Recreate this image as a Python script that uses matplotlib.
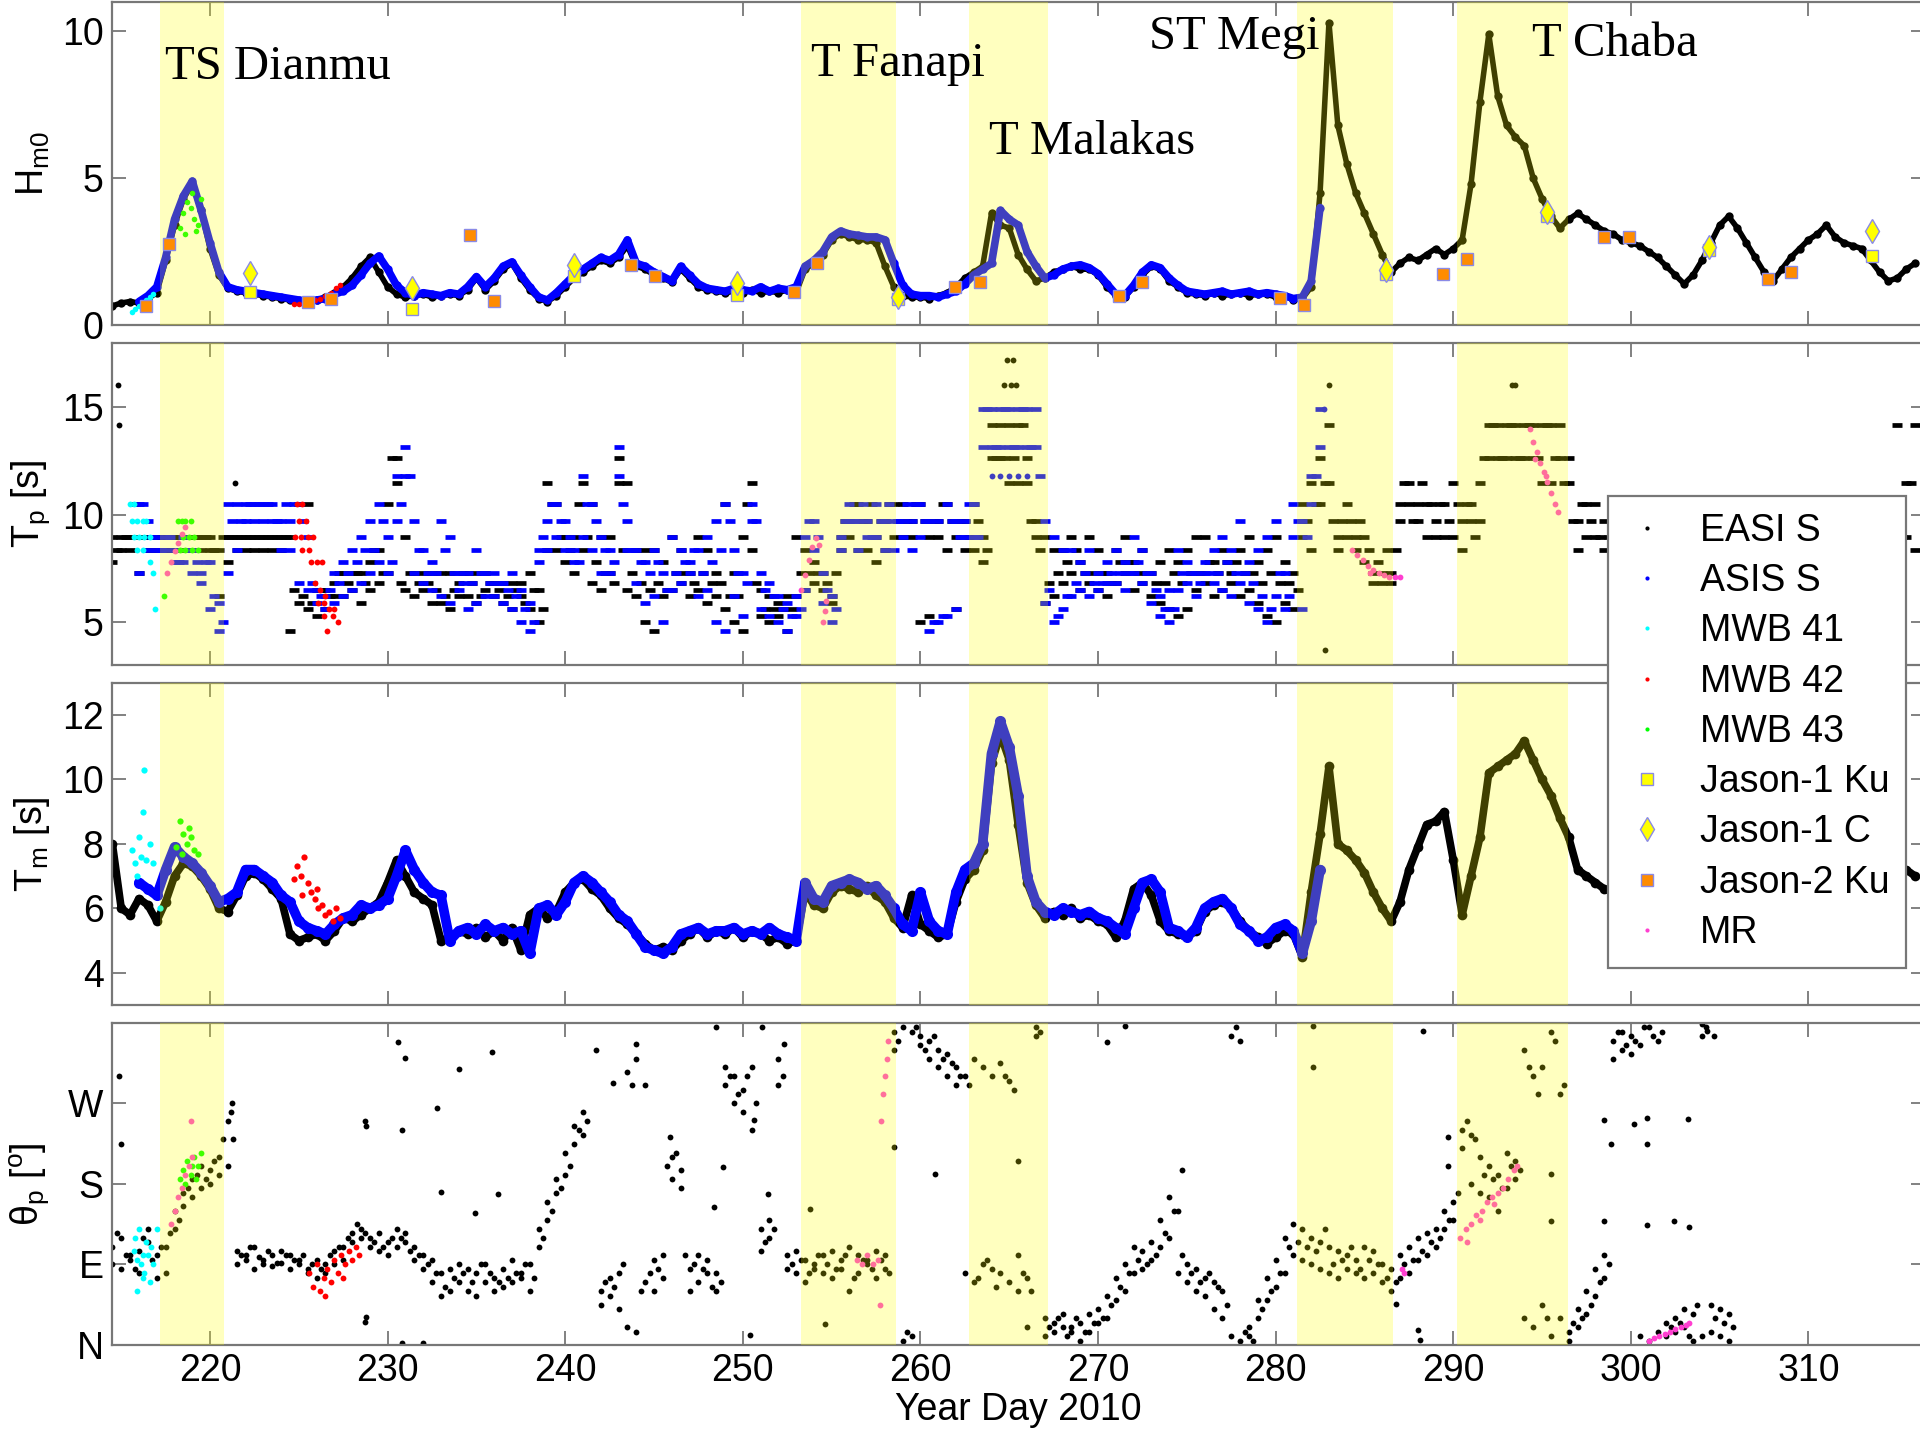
import numpy as np
import matplotlib
matplotlib.use("Agg")
import matplotlib.pyplot as plt
from matplotlib.lines import Line2D

nan = np.nan

# sampling grids: first day and step (days); "_c" series sit half a step later
EASI_T0 = 214.5
ASIS_T0 = 216.0
STEP = 0.5

# storm periods (year day) and labels
storm_spans = [(217.2, 220.76), (253.3, 258.6), (262.75, 267.2), (281.2, 286.6), (290.2, 296.45)]
storm_names = ["TS Dianmu", "T Fanapi", "T Malakas", "ST Megi", "T Chaba"]
storm_text_x = [217.46, 253.84, 263.86, 272.87, 294.43]
storm_text_y = [8.79, 8.89, 6.23, 9.81, 9.57]

# ---------------- Hm0 ----------------
hm0_easi = [
    0.65, 0.75, 0.8, 0.75, 0.9, 1.1, 2.2, 3.4, 4.3, 4.8,
    3.9, 2.6, 1.7, 1.25, 1.15, 1.1, 1.05, 1.0, 0.95, 0.9,
    0.85, 0.8, 0.8, 0.85, 0.95, 1.1, 1.3, 1.6, 2.0, 2.3,
    1.8, 1.3, 1.05, 0.95, 1.0, 1.05, 0.95, 1.0, 1.05, 1.0,
    1.2, 1.6, 1.2, 1.5, 1.9, 2.1, 1.6, 1.2, 0.9, 0.8,
    1.0, 1.3, 1.6, 1.8, 2.0, 2.2, 2.1, 2.3, 2.7, 2.0,
    1.9, 1.7, 1.6, 1.45, 1.9, 1.6, 1.3, 1.2, 1.15, 1.1,
    1.15, 1.1, 1.2, 1.1, 1.15, 1.1, 1.2, 1.1, 1.9, 2.1,
    2.4, 2.9, 3.1, 3.0, 2.9, 2.9, 2.8, 2.0, 1.3, 1.0,
    0.95, 0.95, 0.9, 1.0, 1.1, 1.3, 1.6, 1.8, 2.0, 3.8,
    3.4, 3.3, 2.4, 1.9, 1.5, 1.6, 1.8, 1.9, 2.0, 1.9,
    1.9, 1.7, 1.3, 1.0, 0.95, 1.3, 1.7, 2.0, 1.9, 1.5,
    1.3, 1.1, 1.05, 1.0, 1.1, 1.0, 1.05, 1.1, 1.0, 1.05,
    1.05, 0.95, 1.0, 0.85, 0.9, 1.3, 4.5, 10.3, 6.8, 5.5,
    4.5, 3.8, 3.1, 2.4, 1.8, 2.1, 2.3, 2.2, 2.4, 2.6,
    2.4, 2.6, 2.9, 4.8, 7.6, 9.9, 7.8, 6.8, 6.4, 6.1,
    5.0, 4.3, 3.7, 3.3, 3.6, 3.8, 3.6, 3.4, 3.2, 3.1,
    2.9, 2.8, 2.7, 2.5, 2.3, 2.0, 1.7, 1.4, 1.7, 2.2,
    2.8, 3.4, 3.7, 3.3, 2.8, 2.3, 1.8, 1.5, 1.9, 2.3,
    2.6, 2.9, 3.1, 3.4, 3.0, 2.8, 2.7, 2.6, 2.2, 1.8,
    1.5, 1.6, 1.9, 2.1,
]
hm0_asis = [
    0.8, 1.0, 1.3, 2.3, 3.6, 4.4, 4.9, 3.9, 2.8, 1.8,
    1.3, 1.2, 1.15, 1.1, 1.05, 1.0, 0.95, 0.9, 0.85, 0.8,
    0.85, 0.9, 1.05, 1.15, 1.35, 1.7, 2.1, 2.35, 1.9, 1.35,
    1.1, 1.0, 1.1, 1.05, 1.0, 1.1, 1.05, 1.3, 1.65, 1.3,
    1.6, 2.0, 2.15, 1.7, 1.3, 0.95, 0.85, 1.1, 1.4, 1.7,
    1.9, 2.1, 2.3, 2.2, 2.4, 2.9, 2.1, 2.0, 1.8, 1.65,
    1.5, 2.0, 1.7, 1.4, 1.25, 1.2, 1.15, 1.25, 1.2, 1.15,
    1.3, 1.15, 1.25, 1.2, 1.3, 2.0, 2.2, 2.5, 3.0, 3.2,
    3.1, 3.05, 3.0, 3.0, 2.9, 2.1, 1.35, 1.05, 1.0, 1.0,
    0.95, 1.05, 1.15, 1.4, 1.7, 1.9, 2.1, 3.9, 3.6, 3.4,
    2.5, 2.0, 1.6, 1.7, 1.9, 2.0, 2.05, 1.95, 1.75, 1.4,
    1.05, 1.0, 1.35, 1.8, 2.05, 1.95, 1.6, 1.35, 1.15, 1.1,
    1.05, 1.1, 1.15, 1.05, 1.1, 1.15, 1.05, 1.1, 1.05, 1.0,
    0.9, 0.95, 1.5, 4.0,
]
hm0_mwb41 = [215.6, 0.45, 215.8, 0.55, 216.0, 0.65, 216.2, 0.75, 216.4, 0.85, 216.6, 0.95, 216.8, 1.05]
hm0_mwb42 = [224.7, 0.7, 225.0, 0.72, 225.3, 0.75, 225.6, 0.8, 225.9, 0.85, 226.2, 0.9,
             226.5, 1.0, 226.8, 1.1, 227.1, 1.25, 227.3, 1.35]
hm0_mwb43 = [218.3, 3.3, 218.5, 3.8, 218.7, 4.2, 218.9, 4.0, 219.1, 3.6, 219.3, 3.4,
             219.5, 4.3, 218.6, 3.1, 219.0, 4.5, 219.2, 3.2]
j1ku_day = [222.27, 231.38, 240.48, 249.65, 258.75, 286.2, 295.3, 304.4, 313.58]
j1ku_hs = [1.13, 0.54, 1.66, 1.02, 0.9, 1.75, 3.7, 2.55, 2.34]
j1c_day = [222.27, 231.38, 240.48, 249.65, 258.75, 286.2, 295.3, 304.4, 313.58]
j1c_hs = [1.78, 1.25, 2.06, 1.42, 0.96, 1.89, 3.85, 2.66, 3.2]
j2ku_day = [216.38, 217.69, 225.51, 226.82, 234.62, 236.0, 243.72, 245.07, 252.9, 254.2, 261.96,
            263.37, 271.17, 272.48, 280.27, 281.61, 289.44, 290.75, 298.51, 299.89, 307.72, 309.0]
j2ku_hs = [0.65, 2.75, 0.77, 0.89, 3.08, 0.82, 2.06, 1.66, 1.14, 2.12, 1.28,
           1.47, 0.99, 1.47, 0.93, 0.69, 1.73, 2.24, 2.98, 2.98, 1.55, 1.81]

# ---------------- Tp ----------------
tp_easi_a = [
    8.96, 8.96, 8.96, 8.96, 8.96, 8.96, 8.96, 8.96, 8.96, 8.96,
    8.96, 8.96, 8.35, 8.96, 8.96, 8.96, 8.96, 8.96, 8.96, 8.96,
    8.96, 10.5, 10.5, 6.5, 6.5, 6.8, 7.3, 7.3, 7.3, 7.8,
    8.35, 10.5, 11.45, 8.96, 7.3, 7.3, 7.3, 7.3, 7.3, 6.8,
    7.3, 7.3, 7.3, 6.8, 6.8, 6.8, 6.8, 7.3, 6.5, 11.45,
    10.5, 8.96, 8.96, 11.45, 10.5, 8.96, 7.3, 12.65, 11.45, 8.35,
    8.35, 8.35, 7.8, 8.96, 8.35, 7.3, 8.96, 8.35, 7.3, 10.5,
    7.3, 8.96, 11.45, 6.5, 6.2, 5.9, 6.2, 8.96, 8.35, 7.8,
    7.3, 6.2, 8.96, 9.7, 10.5, 9.7, 8.96, 9.7, 10.5, 10.5,
    9.7, 10.5, 8.96, 9.7, 10.5, 8.96, 9.7, 10.5, 8.96, 14.15,
    14.15, 14.15, 14.15, 12.65, 9.7, 8.96, 8.35, 8.35, 8.96, 7.8,
    8.96, 8.35, 7.3, 8.35, 8.96, 7.8, 8.35, 7.3, 7.8, 8.35,
    7.8, 8.35, 8.96, 8.96, 7.8, 8.35, 7.3, 8.35, 8.96, 7.8,
    8.35, 8.96, 7.8, 7.3, 10.5, 11.45, 12.65, 14.15, 8.96, 10.5,
    8.96, 8.96, 7.3, 7.3, 7.3, 10.5, 11.45, 10.5, 10.5, 9.7,
    10.5, 11.45, 9.7, 10.5, 11.45, 14.15, 14.15, 14.15, 14.15, 14.15,
    14.15, 14.15, 14.15, 14.15, 12.65, 9.7, 10.5, 10.5, 9.7, 9.7,
    nan, nan, nan, nan, nan, nan, nan, nan, nan, nan,
    nan, nan, nan, nan, nan, nan, nan, nan, nan, nan,
    nan, nan, nan, nan, nan, nan, nan, nan, nan, nan,
    nan, 14.15, 11.45, 14.15,
]
tp_easi_b = [
    7.8, 8.35, 8.35, 7.3, 8.35, 8.35, 8.35, 8.35, 8.35, 8.35,
    8.35, 8.35, 6.2, 7.8, 8.35, 8.35, 8.35, 8.35, 8.35, 8.35,
    4.6, 5.9, 5.6, 5.3, 5.6, 6.2, 6.2, 6.5, 5.9, 6.5,
    6.8, 7.3, 12.65, 6.5, 6.2, 6.5, 5.9, 5.9, 5.6, 6.2,
    6.2, 5.9, 6.5, 6.2, 5.9, 5.6, 6.2, 5.6, 5.0, 8.35,
    8.35, 7.8, 7.3, 8.35, 6.8, 6.5, 8.96, 11.45, 6.5, 6.2,
    5.0, 4.6, 6.2, 6.5, 6.8, 6.2, 6.5, 5.9, 6.2, 5.6,
    5.0, 4.6, 8.35, 5.3, 5.0, 5.3, 4.6, 6.2, 6.5, 6.8,
    6.5, 5.9, 8.35, 8.96, 8.35, 8.35, 7.8, 8.35, 8.96, 8.96,
    8.96, 5.0, 5.3, 8.96, 8.35, 5.6, 8.35, 8.35, 7.8, 12.65,
    12.65, 11.45, 11.45, 11.45, 8.96, 5.9, 6.2, 6.8, 7.3, 6.5,
    6.8, 6.5, 6.2, 6.8, 7.3, 6.5, 6.8, 6.2, 5.9, 5.6,
    5.3, 5.6, 6.5, 6.8, 6.2, 6.5, 6.8, 6.2, 6.5, 5.9,
    5.3, 5.0, 5.9, 5.6, 8.96, 8.35, 10.5, 11.45, 8.35, 8.96,
    8.35, 7.8, 6.8, 6.8, 6.8, 9.7, 10.5, 9.7, 8.96, 8.96,
    8.96, 8.96, 8.35, 9.7, 9.7, 12.65, 12.65, 12.65, 12.65, 12.65,
    12.65, 11.45, 11.45, 12.65, 11.45, 8.35, 8.96, 8.96, 8.35, 8.35,
    nan, nan, nan, nan, nan, nan, nan, nan, nan, nan,
    nan, nan, nan, nan, nan, nan, nan, nan, nan, nan,
    nan, nan, nan, nan, nan, nan, nan, nan, nan, nan,
    nan, 9.7, 8.96, 8.35,
]
tp_easi_c = [
    8.35, 8.96, 10.5, 8.96, 8.96, 8.96, 8.35, 8.96, 8.96, 8.96,
    8.96, 8.35, 8.96, 8.96, 8.96, 8.96, 8.96, 8.96, 8.96, 8.96,
    6.5, 6.2, 5.9, 6.5, 6.2, 7.3, 6.8, 7.3, 6.8, 8.35,
    7.3, 12.65, 6.8, 7.3, 6.8, 6.8, 6.5, 6.2, 6.5, 7.3,
    6.8, 6.2, 6.8, 6.5, 6.2, 6.5, 5.9, 6.5, 5.6, 10.5,
    8.96, 8.35, 10.5, 8.96, 7.8, 7.3, 6.8, 8.35, 7.3, 6.8,
    6.5, 6.8, 6.5, 7.3, 7.3, 6.8, 7.3, 6.8, 6.8, 6.2,
    6.2, 10.5, 6.8, 5.6, 5.6, 5.6, 5.6, 7.3, 7.3, 7.3,
    6.8, 7.3, 9.7, 10.5, 9.7, 10.5, 9.7, 10.5, 9.7, 9.7,
    10.5, 9.7, 9.7, 10.5, 9.7, 9.7, 8.96, 9.7, 8.35, 12.65,
    12.65, 12.65, 14.15, 9.7, 8.35, 6.8, 7.3, 7.8, 8.35, 7.3,
    7.3, 7.3, 6.8, 7.8, 7.8, 7.3, 7.3, 6.8, 6.8, 7.3,
    6.8, 7.3, 7.3, 7.8, 7.3, 7.8, 7.8, 7.3, 7.3, 6.8,
    7.3, 6.8, 6.8, 6.5, 9.7, 10.5, 11.45, 9.7, 9.7, 9.7,
    9.7, 8.35, 7.8, 8.35, 8.35, 11.45, 9.7, 11.45, 10.5, 10.5,
    9.7, 10.5, 10.5, 8.96, 12.65, 14.15, 12.65, 14.15, 12.65, 14.15,
    12.65, 14.15, 12.65, 11.45, 9.7, 10.5, 9.7, 8.96, 8.96, nan,
    nan, nan, nan, nan, nan, nan, nan, nan, nan, nan,
    nan, nan, nan, nan, nan, nan, nan, nan, nan, nan,
    nan, nan, nan, nan, nan, nan, nan, nan, nan, nan,
    9.7, 8.96, 11.45, nan,
]
tp_asis_a = [
    10.5, 9.7, 8.96, 8.96, 8.35, 8.96, 8.35, 7.3, 7.8, 5.9,
    10.5, 10.5, 10.5, 10.5, 10.5, 10.5, 9.7, 9.7, 10.5, 8.96,
    6.5, 6.2, 7.3, 7.8, 8.35, 8.96, 9.7, 10.5, 8.96, 11.8,
    13.15, 9.7, 8.35, 7.8, 9.7, 8.96, 7.3, 7.3, 8.35, 7.3,
    7.3, 6.8, 7.3, 6.5, 5.9, 8.35, 9.7, 10.5, 9.7, 8.35,
    11.8, 10.5, 8.96, 8.35, 13.15, 9.7, 8.35, 7.8, 8.35, 7.3,
    8.96, 8.35, 7.8, 8.35, 8.96, 9.7, 10.5, 8.35, 7.3, 10.5,
    7.3, 6.8, 6.2, 5.9, 6.2, 8.96, 9.7, 7.3, 6.2, 8.96,
    10.5, 9.7, 9.7, 10.5, 9.7, 9.7, 9.7, 9.7, 10.5, 9.7,
    9.7, 10.5, 9.7, 9.7, 10.5, 14.9, 14.9, 14.9, 14.9, 14.9,
    14.9, 14.9, 9.7, 8.96, 8.35, 8.35, 7.8, 8.35, 7.3, 7.8,
    8.35, 7.8, 8.96, 8.35, 7.3, 6.2, 6.5, 8.35, 7.8, 7.3,
    7.8, 8.35, 8.96, 8.35, 9.7, 7.8, 8.35, 8.96, 9.7, 7.3,
    10.5, 9.7, 11.8, 14.9,
]
tp_asis_b = [
    7.3, 8.35, 8.35, 8.35, 7.8, 7.8, 7.3, 6.8, 5.6, 4.6,
    7.3, 8.35, 9.7, 9.7, 9.7, 9.7, 8.35, 8.35, 6.8, 6.5,
    5.9, 5.6, 5.9, 6.2, 6.5, 6.8, 7.3, 7.8, 7.3, 9.7,
    11.8, 7.3, 6.8, 6.5, 6.2, 5.9, 6.5, 5.6, 5.9, 6.2,
    6.2, 5.9, 5.6, 5.0, 4.6, 7.8, 8.35, 8.96, 8.35, 7.8,
    8.96, 8.35, 7.3, 7.3, 11.8, 8.35, 6.8, 5.9, 6.2, 5.0,
    6.5, 6.8, 7.3, 6.2, 6.5, 5.0, 4.6, 6.2, 5.3, 9.7,
    5.6, 5.3, 5.0, 4.6, 5.3, 6.5, 8.35, 5.9, 5.0, 8.35,
    9.7, 8.35, 8.96, 8.96, 8.35, 8.35, 8.96, 8.35, 8.96, 4.6,
    5.0, 5.3, 5.6, 8.96, 8.96, 13.15, 13.15, 13.15, 13.15, 13.15,
    13.15, 13.15, 5.9, 5.0, 5.6, 6.2, 6.5, 6.2, 6.5, 6.8,
    6.8, 6.5, 7.3, 6.8, 5.9, 5.3, 5.0, 6.5, 6.8, 6.2,
    7.3, 6.8, 6.5, 6.2, 6.8, 5.9, 5.6, 5.0, 6.2, 5.6,
    8.96, 5.6, 10.5, 13.15,
]
tp_asis_c = [
    10.5, 8.96, 8.35, 8.96, 7.8, 8.35, 7.8, 7.8, 6.2, 5.0,
    9.7, 9.7, 10.5, 10.5, 10.5, 9.7, 10.5, 10.5, 9.7, 6.8,
    6.2, 6.5, 6.8, 7.3, 7.8, 8.35, 8.35, 9.7, 7.8, 10.5,
    11.8, 8.35, 7.3, 7.3, 8.35, 7.3, 6.8, 6.8, 7.3, 6.8,
    6.8, 6.5, 6.2, 5.6, 5.0, 8.96, 10.5, 9.7, 8.96, 7.8,
    10.5, 9.7, 8.35, 7.8, 10.5, 8.35, 7.8, 7.3, 7.8, 6.5,
    7.3, 7.8, 8.35, 7.3, 7.8, 8.35, 9.7, 7.3, 6.8, 9.7,
    6.5, 6.2, 5.6, 5.3, 5.6, 9.7, 8.96, 6.5, 5.6, 9.7,
    9.7, 10.5, 8.96, 9.7, 10.5, 9.7, 10.5, 10.5, 9.7, 5.0,
    5.3, 9.7, 8.96, 10.5, 8.96, 14.9, 13.15, 14.9, 13.15, 14.9,
    13.15, 11.8, 6.5, 5.3, 6.2, 6.8, 7.3, 6.8, 6.8, 7.3,
    7.3, 7.3, 7.8, 7.3, 6.5, 5.6, 5.6, 7.3, 7.3, 6.8,
    7.3, 7.3, 7.8, 7.3, 7.3, 6.8, 6.2, 5.6, 7.3, 6.2,
    9.7, 8.96, 11.8, nan,
]
tp_easi_extra = [214.8, 16.05, 214.9, 14.15, 264.9, 17.2, 265.2, 17.2, 264.7, 16.05, 265.1, 16.05,
                 265.4, 16.05, 283.0, 16.05, 293.3, 16.05, 293.5, 16.05, 282.8, 3.7, 221.4, 11.45]
tp_asis_extra = [264.0, 11.8, 264.5, 11.8, 265.0, 11.8, 265.5, 11.8, 266.0, 11.8, 282.7, 14.9]
tp_mwb41 = [215.5, 10.5, 215.7, 10.5, 215.6, 9.7, 215.9, 9.7, 216.2, 9.7, 216.4, 9.7, 215.7, 8.96,
            216.0, 8.96, 216.3, 8.96, 216.6, 8.96, 215.9, 8.35, 216.2, 8.35, 216.6, 7.8, 216.8, 7.3,
            216.9, 5.6]
tp_mwb42 = [224.9, 10.5, 225.2, 10.5, 225.0, 9.7, 225.4, 9.7, 224.8, 8.96, 225.1, 8.96, 225.5, 8.96,
            225.8, 8.96, 225.2, 8.35, 225.6, 8.35, 225.7, 7.8, 226.0, 7.8, 226.3, 7.8, 225.9, 6.8,
            226.2, 6.5, 226.5, 6.2, 226.1, 5.9, 226.4, 5.9, 226.7, 5.6, 227.0, 5.6, 226.4, 5.3,
            226.9, 5.3, 227.2, 5.0, 226.6, 4.6]
tp_mwb43 = [218.2, 9.7, 218.4, 9.7, 218.6, 9.7, 218.9, 9.7, 218.5, 8.96, 218.8, 8.96, 219.1, 8.96,
            218.3, 8.35, 218.6, 8.35, 219.0, 8.35, 219.3, 8.35, 217.4, 6.2]
tp_mr = [217.6, 7.3, 217.8, 7.8, 218.0, 8.3, 218.2, 8.7, 218.4, 9.1, 218.6, 9.4,
         253.3, 6.5, 253.5, 7.2, 253.7, 7.9, 253.9, 8.5, 254.1, 8.9, 254.3, 8.6, 254.5, 5.0,
         254.6, 5.5, 254.7, 6.0,
         284.3, 8.35, 284.6, 8.1, 284.9, 7.9, 285.2, 7.6, 285.5, 7.4, 285.8, 7.3, 286.1, 7.2,
         286.4, 7.1, 286.7, 7.1, 287.0, 7.1, 285.3, 7.3,
         294.3, 14.0, 294.5, 13.4, 294.7, 12.9, 294.9, 12.4, 295.1, 12.0, 295.3, 11.5,
         295.5, 11.0, 295.7, 10.5, 295.9, 10.1, 294.6, 12.6, 295.2, 11.8]

# ---------------- Tm ----------------
tm_easi = [
    8.0, 6.0, 5.8, 6.3, 6.1, 5.6, 6.2, 7.0, 7.4, 7.3,
    7.0, 6.6, 6.0, 5.9, 6.4, 7.0, 7.1, 6.9, 6.6, 6.3,
    5.2, 5.0, 5.1, 5.2, 5.0, 5.3, 5.7, 5.6, 5.8, 6.0,
    6.2, 6.8, 7.5, 7.0, 6.5, 6.3, 6.1, 5.0, 5.1, 5.3,
    5.2, 5.4, 5.1, 5.3, 5.0, 5.4, 4.7, 5.8, 6.0, 5.7,
    5.9, 6.5, 6.8, 6.9, 6.6, 6.4, 6.0, 5.7, 5.5, 5.2,
    4.9, 4.7, 4.8, 4.7, 5.0, 5.2, 5.4, 5.1, 5.3, 5.2,
    5.4, 5.1, 5.3, 5.2, 5.0, 5.1, 4.9, 5.0, 6.5, 6.1,
    6.0, 6.5, 6.7, 6.6, 6.5, 6.7, 6.4, 6.2, 5.7, 5.4,
    6.4, 5.5, 5.3, 5.1, 5.2, 6.2, 6.9, 7.2, 7.8, 10.5,
    11.4, 10.6, 8.6, 6.8, 6.1, 5.7, 5.9, 5.8, 6.0, 5.7,
    5.8, 5.6, 5.5, 5.1, 5.6, 6.6, 6.8, 6.4, 5.6, 5.3,
    5.2, 5.1, 5.3, 5.9, 6.1, 6.2, 6.0, 5.6, 5.3, 5.1,
    4.9, 5.1, 5.3, 5.2, 4.5, 6.5, 8.3, 10.4, 8.0, 7.8,
    7.5, 7.1, 6.5, 6.0, 5.6, 6.2, 7.2, 7.9, 8.6, 8.7,
    9.0, 7.5, 5.8, 7.0, 8.2, 10.2, 10.4, 10.6, 10.8, 11.2,
    10.6, 10.0, 9.5, 8.8, 8.2, 7.2, 7.0, 6.8, 6.6, 6.5,
    6.6, nan, nan, nan, nan, nan, nan, nan, nan, nan,
    nan, nan, nan, nan, nan, nan, nan, nan, nan, nan,
    nan, nan, nan, nan, nan, nan, nan, nan, nan, nan,
    nan, 6.9, 7.2, 7.0,
]
tm_asis = [
    6.8, 6.6, 6.4, 7.2, 7.9, 7.6, 7.4, 7.1, 6.7, 6.2,
    6.3, 6.5, 7.2, 7.2, 7.0, 6.8, 6.4, 6.2, 5.6, 5.4,
    5.3, 5.2, 5.5, 5.7, 5.8, 6.1, 6.0, 6.1, 6.3, 7.0,
    7.8, 7.2, 6.8, 6.5, 6.4, 5.0, 5.3, 5.4, 5.2, 5.5,
    5.3, 5.4, 5.2, 5.3, 4.6, 6.0, 6.1, 5.8, 6.2, 6.8,
    7.0, 6.8, 6.5, 6.2, 5.8, 5.6, 5.2, 4.8, 4.7, 4.6,
    4.8, 5.2, 5.3, 5.4, 5.2, 5.3, 5.3, 5.4, 5.2, 5.3,
    5.2, 5.4, 5.2, 5.1, 5.0, 6.8, 6.3, 6.2, 6.7, 6.8,
    6.9, 6.8, 6.6, 6.7, 6.4, 6.0, 5.5, 5.3, 6.5, 5.6,
    5.3, 5.2, 6.5, 7.2, 7.4, 8.0, 10.8, 11.8, 11.0, 9.5,
    7.0, 6.2, 5.9, 5.8, 6.0, 5.9, 5.8, 5.9, 5.7, 5.6,
    5.4, 5.2, 6.0, 6.8, 6.9, 6.5, 5.4, 5.3, 5.1, 5.4,
    6.0, 6.2, 6.3, 6.0, 5.5, 5.3, 5.0, 5.1, 5.4, 5.5,
    5.3, 4.6, 5.6, 7.2,
]
tm_mwb41 = [215.6, 7.8, 215.8, 7.4, 216.0, 8.2, 216.1, 7.6, 216.3, 10.3, 216.2, 9.0, 216.4, 7.5,
            216.6, 8.0, 216.8, 7.4, 215.9, 7.0, 217.2, 6.0]
tm_mwb42 = [224.7, 6.9, 224.9, 7.3, 225.1, 7.0, 225.3, 7.6, 225.5, 6.8, 225.7, 6.5, 225.9, 6.3,
            226.1, 6.0, 226.3, 6.1, 226.5, 5.8, 226.7, 5.9, 226.9, 5.6, 227.1, 6.0, 227.3, 5.7,
            226.0, 6.6, 225.2, 6.4]
tm_mwb43 = [218.1, 7.9, 218.3, 8.7, 218.5, 8.3, 218.7, 8.0, 218.9, 8.2, 219.1, 7.8, 219.3, 7.7,
            218.4, 7.7, 218.8, 8.5]

# ---------------- peak direction (deg) ----------------
th_easi_a = [
    110, 120, 95, 105, 130, 100, 110, 150, 170, 185,
    200, 195, 210, 250, 105, 100, 110, 95, 100, 105,
    100, 95, 85, 95, 90, 105, 110, 125, 130, 120,
    125, 115, 130, 125, 110, 100, 95, 80, 85, 90,
    85, 80, 90, 75, 85, 95, 80, 90, 130, 160,
    185, 215, 245, 260, nan, 60, 75, 80, 305, 320,
    290, 95, 100, 210, 195, 85, 100, 95, 80, 310,
    300, 285, 310, 130, 120, 320, 100, 105, 95, 90,
    100, 105, 95, 110, 100, 95, 105, 100, 350, 355,
    350, 345, 340, 330, 325, 310, 300, 320, 310, 300,
    315, 295, 100, 75, 355, 30, 25, 20, 15, 25,
    35, 40, 55, 75, 90, 110, 105, 115, 140, 165,
    150, 90, 85, 75, 70, 60, 345, 340, 20, 50,
    75, 95, 120, 135, 130, 120, 115, 110, 105, 100,
    95, 110, 105, 90, 85, 100, 110, 120, 125, 130,
    150, 160, 240, 235, 210, 200, 190, 215, 205, 330,
    300, 310, 350, 280, 15, 40, 60, 85, 100, 340,
    350, 345, 335, 355, 340, 25, 30, 40, 35, 345,
    45, 40, 35, nan, nan, nan, nan, nan, nan, nan,
    nan, nan, nan, nan, nan, nan, nan, nan, nan, nan,
    nan, nan, nan, nan,
]
th_easi_b = [
    90, 85, 100, 80, 115, 75, 80, 130, 155, 165,
    175, 180, 190, 200, 90, 95, 85, 90, 88, 92,
    85, 90, 80, 75, 80, 90, 95, 115, 120, 110,
    105, 100, 110, 115, 95, 85, 70, 55, 60, 70,
    60, 55, 70, 60, 65, 70, 75, 60, 110, 140,
    170, 190, 225, 235, nan, 45, 55, 40, 20, 15,
    70, 60, 75, 185, 175, 60, 70, 80, 60, 290,
    270, 260, 240, 105, 140, 290, 85, 80, 70, 85,
    80, 75, 85, 60, 80, 90, 75, 85, 330, 5,
    10, 335, 320, 310, 300, 290, 80, 70, 90, 85,
    80, 70, 60, 20, 345, 10, 15, 35, 20, 5,
    15, 25, 30, 50, 60, 80, 85, 95, 110, 120,
    80, 70, 60, 55, 40, 30, 10, 5, 10, 30,
    50, 65, 80, 100, 95, 90, 85, 80, 75, 85,
    80, 75, 80, 70, 60, 75, 80, 95, 100, 110,
    130, 140, 220, 180, 170, 165, 150, 175, 185, 30,
    20, 45, 10, 30, 5, 20, 35, 55, 75, 320,
    330, 325, 10, 5, 15, 10, 15, 20, 5, 10,
    15, 10, 5, nan, nan, nan, nan, nan, nan, nan,
    nan, nan, nan, nan, nan, nan, nan, nan, nan, nan,
    nan, nan, nan, nan,
]
th_easi_c = [
    125, 100, 85, 120, 95, 110, 125, 140, 175, 190,
    185, 205, 230, 270, 100, 110, 98, 105, 92, 100,
    95, 100, 90, 85, 100, 110, 120, 135, 125, 115,
    110, 120, 120, 105, 100, 90, 80, 65, 75, 80,
    70, 90, 80, 70, 75, 80, 90, 75, 120, 150,
    175, 200, 240, 250, 330, 70, 65, 90, 290, 60,
    80, 85, 200, 215, 100, 90, 85, 65, 70, 300,
    280, 300, 270, 115, 130, 300, 90, 95, 80, 100,
    90, 85, 100, 75, 95, 85, 95, 80, 340, 15,
    355, 330, 345, 320, 315, 300, 290, 75, 95, 65,
    300, 285, 80, 60, 350, 20, 30, 10, 30, 15,
    25, 30, 45, 65, 80, 95, 90, 100, 125, 150,
    100, 80, 70, 80, 65, 45, 355, 15, 5, 40,
    60, 80, 110, 115, 110, 105, 130, 90, 95, 110,
    85, 95, 90, 75, 70, 90, 95, 105, 115, 120,
    140, 170, 250, 230, 190, 185, 175, 200, 195, 310,
    280, 30, 340, 290, 25, 30, 45, 70, 90, 350,
    335, 340, 355, 345, 350, 20, 25, 10, 45, 355,
    30, 25, 20, nan, nan, nan, nan, nan, nan, nan,
    nan, nan, nan, nan, nan, nan, nan, nan, nan, nan,
    nan, nan, nan, nan,
]
th_easi_extra = [
    214.9, 300, 215.0, 225, 221.2, 260, 221.3, 230, 228.7, 250, 228.8, 245, 232.8, 265,
    234.0, 308, 235.9, 327, 234.9, 147, 236.2, 169, 233.0, 171, 230.8, 240, 231.0, 321,
    230.6, 338, 228.7, 26, 228.8, 31, 230.8, 2, 232.0, 2, 242.7, 293, 244.0, 336,
    245.9, 232, 248.9, 199, 248.4, 154, 250.6, 251, 251.4, 169, 250.4, 11, 253.8, 152,
    254.6, 24, 252.3, 336, 251.1, 355, 248.5, 355, 260.8, 191, 258.5, 221,
    265.5, 206, 270.5, 338, 271.5, 356, 274.75, 195, 282.1, 310, 282.1, 356, 288.3, 351,
    289.7, 200, 289.7, 232, 295.5, 191, 295.5, 139, 298.5, 251, 298.9, 225, 300.2, 247,
    300.9, 254, 300.9, 225, 303.2, 252, 298.5, 139, 300.9, 134, 302.4, 139, 303.3, 132,
    288.0, 17, 288.1, 6, 286.8, 46, 304.0, 358, 304.3, 351, 304.7, 345,
]
th_mwb41 = [215.7, 105, 215.8, 120, 215.9, 95, 216.0, 130, 216.1, 90, 216.2, 100, 216.3, 80,
            216.4, 115, 216.5, 100, 216.6, 70, 216.7, 110, 216.8, 90, 217.0, 130, 215.9, 60,
            216.2, 75]
th_mwb42 = [225.6, 80, 225.8, 65, 226.0, 90, 226.2, 60, 226.4, 75, 226.6, 85, 226.8, 70, 227.0, 95,
            227.2, 80, 227.4, 100, 227.6, 90, 227.8, 105, 228.0, 95, 228.2, 110, 228.4, 100,
            226.5, 55, 227.5, 75]
th_mwb43 = [218.3, 185, 218.5, 195, 218.7, 205, 218.9, 190, 219.1, 210, 219.3, 200, 219.5, 215,
            218.6, 180, 219.0, 200, 219.2, 185]
th_mr = [217.8, 135, 218.0, 150, 218.2, 165, 218.4, 175, 218.6, 190, 218.8, 200, 219.0, 210,
         218.9, 250, 256.4, 95, 256.7, 90, 257.0, 100, 257.3, 90, 257.6, 95, 257.8, 250,
         257.9, 280, 258.0, 300, 258.1, 320, 258.2, 340, 257.7, 45, 287.1, 85, 287.2, 80,
         290.4, 120, 290.7, 130, 291.0, 135, 291.3, 145, 291.6, 150, 291.9, 160, 292.2, 165,
         292.5, 170, 292.8, 175, 293.1, 185, 293.4, 195, 293.6, 200, 290.8, 115, 291.5, 140,
         292.3, 158, 301.0, 5, 301.3, 8, 301.6, 10, 301.9, 12, 302.2, 15, 302.5, 18,
         302.8, 20, 303.1, 22, 303.3, 25]


def gridded(t0, vals):
    v = np.array(vals, dtype=float)
    return t0 + STEP * np.arange(len(v)), v


def pairs(flat):
    a = np.array(flat, dtype=float).reshape(-1, 2)
    return a[:, 0], a[:, 1]


C_EASI = "black"
C_ASIS = "#0000ff"
C_41 = "#00ffff"
C_42 = "#ff0000"
C_43 = "#00ff00"
C_MR = "#ff3fd0"
C_EDGE = "#8a8ae6"

plt.rcParams["font.family"] = ["Liberation Sans", "DejaVu Sans"]
plt.rcParams["mathtext.default"] = "regular"

fig = plt.figure(figsize=(19.2, 14.4), dpi=100)
LEFT = 112 / 1920
WIDTH = (1925 - 112) / 1920
rects = [(2, 325), (342.7, 665), (682.7, 1005), (1022.7, 1345)]
axes = [fig.add_axes([LEFT, 1 - b / 1440, WIDTH, (b - t) / 1440]) for t, b in rects]
XMIN, XMAX = 214.48, 316.56

dot = dict(linestyle="none", marker="o", ms=4.2, mew=0)


def plot_line(ax, t, v, color, lw, ms=5):
    ax.plot(t, v, color=color, lw=lw, zorder=2, solid_joinstyle="round", solid_capstyle="round")
    ax.plot(t, v, color=color, linestyle="none", marker="o", ms=ms, mew=0, zorder=2)


def plot_dots(ax, flat, color, ms=4.0):
    x, y = pairs(flat)
    ax.plot(x, y, color=color, linestyle="none", marker="o", ms=ms, mew=0, zorder=2.2)


# panel 1: Hm0
ax = axes[0]
plot_line(ax, *gridded(EASI_T0, hm0_easi), C_EASI, 4.0, ms=6)
plot_line(ax, *gridded(ASIS_T0, hm0_asis), C_ASIS, 5.5, ms=6)
plot_dots(ax, hm0_mwb41, C_41)
plot_dots(ax, hm0_mwb42, C_42)
plot_dots(ax, hm0_mwb43, C_43)
ax.plot(j1ku_day, j1ku_hs, linestyle="none", marker="s", ms=9, mfc="#ffff00", mec=C_EDGE, mew=1, zorder=4)
ax.plot(j1c_day, j1c_hs, linestyle="none", marker="d", ms=12, mfc="#ffff00", mec=C_EDGE, mew=1, zorder=4)
ax.plot(j2ku_day, j2ku_hs, linestyle="none", marker="s", ms=9, mfc="#ff8c00", mec=C_EDGE, mew=1, zorder=4)
for name, tx, ty in zip(storm_names, storm_text_x, storm_text_y):
    ax.text(tx, ty, name, family=["Liberation Serif", "DejaVu Serif"], fontsize=35,
            va="center", ha="left", zorder=6)
ax.set_ylim(0, 11)
ax.set_yticks([0, 5, 10])
ax.set_ylabel("H$_{m0}$")

# panel 2: Tp
ax = axes[1]
dash = dict(linestyle="none", marker="_", ms=7, mew=3.4, zorder=2)
for vals in (tp_easi_a, tp_easi_b):
    t, v = gridded(EASI_T0, vals)
    ax.plot(t, v, color=C_EASI, **dash)
t, v = gridded(EASI_T0 + STEP / 2, tp_easi_c)
ax.plot(t, v, color=C_EASI, **dash)
for vals in (tp_asis_a, tp_asis_b):
    t, v = gridded(ASIS_T0, vals)
    ax.plot(t, v, color=C_ASIS, **dash)
t, v = gridded(ASIS_T0 + STEP / 2, tp_asis_c)
ax.plot(t, v, color=C_ASIS, **dash)
plot_dots(ax, tp_easi_extra, C_EASI, 4.2)
plot_dots(ax, tp_asis_extra, C_ASIS, 4.2)
plot_dots(ax, tp_mwb41, C_41, 4.2)
plot_dots(ax, tp_mwb42, C_42, 4.2)
plot_dots(ax, tp_mwb43, C_43, 4.2)
plot_dots(ax, tp_mr, C_MR, 4.2)
ax.set_ylim(3, 18)
ax.set_yticks([5, 10, 15])
ax.set_ylabel("T$_p$ [s]")

# panel 3: Tm
ax = axes[2]
plot_line(ax, *gridded(EASI_T0, tm_easi), C_EASI, 5.5, ms=7)
plot_line(ax, *gridded(ASIS_T0, tm_asis), C_ASIS, 7.0, ms=8)
plot_dots(ax, tm_mwb41, C_41, 4.5)
plot_dots(ax, tm_mwb42, C_42, 4.5)
plot_dots(ax, tm_mwb43, C_43, 4.5)
ax.set_ylim(3, 13)
ax.set_yticks([4, 6, 8, 10, 12])
ax.set_ylabel("T$_m$ [s]")

# panel 4: peak direction
ax = axes[3]
for vals in (th_easi_a, th_easi_b):
    t, v = gridded(EASI_T0, vals)
    ax.plot(t, v, color=C_EASI, **dot)
t, v = gridded(EASI_T0 + STEP / 2, th_easi_c)
ax.plot(t, v, color=C_EASI, **dot)
plot_dots(ax, th_easi_extra, C_EASI, 4.2)
plot_dots(ax, th_mwb41, C_41, 4.2)
plot_dots(ax, th_mwb42, C_42, 4.2)
plot_dots(ax, th_mwb43, C_43, 4.2)
plot_dots(ax, th_mr, C_MR, 4.2)
ax.set_ylim(0, 360)
ax.set_yticks([0, 90, 180, 270])
ax.set_yticklabels(["N", "E", "S", "W"])
ax.set_ylabel(r"$\theta_p$ [$^o$]")
ax.set_xlabel("Year Day 2010", fontsize=27, labelpad=2)

for i, ax in enumerate(axes):
    for a, b in storm_spans:
        ax.axvspan(a, b, color=(1, 1, 0), alpha=0.25, lw=0, zorder=3)
    ax.set_xlim(XMIN, XMAX)
    ax.set_xticks(np.arange(220, 320, 10))
    if i < 3:
        ax.set_xticklabels([])
    ax.tick_params(direction="in", length=10, width=1.3, top=True, right=True,
                   labelsize=27, color="#777777", pad=6)
    ax.yaxis.label.set_size(27)
    ax.yaxis.set_label_coords(-0.033, 0.5)
    for s in ax.spines.values():
        s.set_color("#777777")
        s.set_linewidth(1.6)

handles = [
    Line2D([], [], linestyle="none", marker="o", ms=3, mew=0, color=C_EASI),
    Line2D([], [], linestyle="none", marker="o", ms=3, mew=0, color=C_ASIS),
    Line2D([], [], linestyle="none", marker="o", ms=3, mew=0, color=C_41),
    Line2D([], [], linestyle="none", marker="o", ms=3, mew=0, color=C_42),
    Line2D([], [], linestyle="none", marker="o", ms=3, mew=0, color=C_43),
    Line2D([], [], linestyle="none", marker="s", ms=9, mfc="#ffff00", mec=C_EDGE),
    Line2D([], [], linestyle="none", marker="d", ms=12, mfc="#ffff00", mec=C_EDGE),
    Line2D([], [], linestyle="none", marker="s", ms=9, mfc="#ff8c00", mec=C_EDGE),
    Line2D([], [], linestyle="none", marker="o", ms=3, mew=0, color=C_MR),
]
labels = ["EASI S", "ASIS S", "MWB 41", "MWB 42", "MWB 43", "Jason-1 Ku", "Jason-1 C", "Jason-2 Ku", "MR"]
leg = fig.legend(handles, labels, loc="upper left", bbox_to_anchor=(1608 / 1920, 1 - 496 / 1440),
                 fontsize=27, frameon=True, fancybox=False, framealpha=1, edgecolor="#777777",
                 handlelength=1.2, handletextpad=0.8, labelspacing=0.38, borderpad=0.45,
                 borderaxespad=0)
leg.get_frame().set_linewidth(1.6)
leg.set_zorder(10)

fig.savefig("out.png", dpi=100, facecolor="white")
